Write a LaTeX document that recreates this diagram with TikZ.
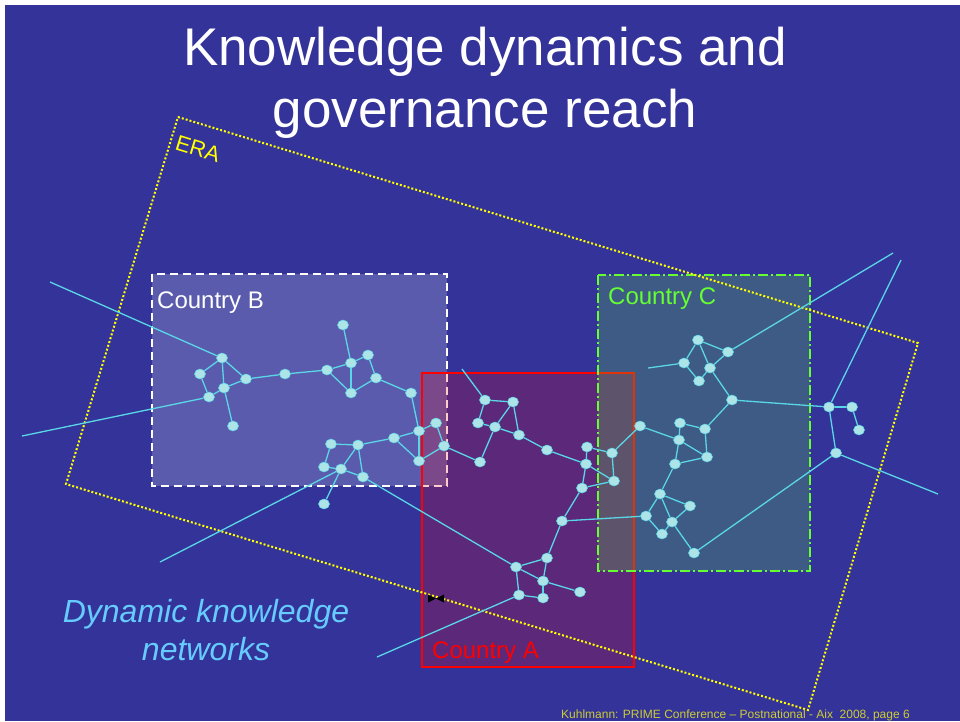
\documentclass[tikz,border=0pt]{standalone}
\usepackage{fontspec}
\setmainfont{Liberation Sans}
\usetikzlibrary{shapes.geometric}
\definecolor{bg}{RGB}{51,51,153}
\definecolor{edgecol}{RGB}{90,215,230}
\definecolor{nodefill}{RGB}{172,228,232}
\definecolor{cgreen}{RGB}{102,255,51}
\definecolor{dyncol}{RGB}{102,204,255}
\definecolor{footcol}{RGB}{204,204,51}
\definecolor{erayellow}{RGB}{255,255,0}
\tikzset{
  dot/.style={ellipse, minimum width=11pt, minimum height=10pt, inner sep=0pt, fill=nodefill, draw=edgecol, line width=0.5pt},
  link/.style={draw=edgecol, line width=1.3pt},
  countrylabel/.style={anchor=base west, inner sep=0pt, font=\fontsize{24}{28}\selectfont},
}
\begin{document}
\begin{tikzpicture}[x=1pt,y=-1pt]
\useasboundingbox (0,0) rectangle (960,721);
\fill[white] (0,0) rectangle (960,721);
\fill[bg] (5,5) rectangle (960,721);

% country boxes
\fill[white, fill opacity=0.2] (152,274) rectangle (447,486);
\draw[white, line width=2pt, dash pattern=on 8pt off 5pt] (152,274) rectangle (447,486);
\fill[red, fill opacity=0.2] (422,373) rectangle (634,667);
\draw[red, line width=2pt] (422,373) rectangle (634,667);
\fill[cgreen, fill opacity=0.2] (598,275) rectangle (810,571);
\draw[cgreen, line width=2pt, dash pattern=on 10pt off 3pt on 2pt off 3pt] (598,275) rectangle (810,571);

% ERA
\draw[erayellow, line width=2pt, dash pattern=on 2pt off 2pt] (178,117) -- (918,343) -- (808,710) -- (66,484) -- cycle;

% texts
\node[white, anchor=base, inner sep=0pt, font=\fontsize{53}{62}\selectfont] (t1) at (485,65) {Knowledge dynamics and};
\node[white, anchor=base, inner sep=0pt, font=\fontsize{53}{62}\selectfont] (t2) at (485,127) {governance reach};
\node[erayellow, rotate=-17, inner sep=0pt, font=\fontsize{22}{26}\selectfont] (era) at (198,149) {ERA};
\node[countrylabel, white] (lb) at (157,308) {Country B};
\node[countrylabel, cgreen] (lc) at (608,304) {Country C};
\node[countrylabel, red] (la) at (432,658) {Country A};
\node[dyncol, anchor=base, inner sep=0pt, font=\fontsize{32}{38}\selectfont\itshape] (d1) at (206,622) {Dynamic knowledge};
\node[dyncol, anchor=base, inner sep=0pt, font=\fontsize{32}{38}\selectfont\itshape] (d2) at (206,660) {networks};
\node[footcol, anchor=base east, inner sep=0pt, font=\fontsize{12}{14}\selectfont] (foot) at (910,718) {Kuhlmann: PRIME Conference -- Postnational - Aix\ \ 2008, page 6};

% bowtie marker
\fill[black] (428,594.5) -- (428,602.5) -- (436,598.5) -- cycle;
\fill[black] (444,594.5) -- (444,602.5) -- (436,598.5) -- cycle;

% free ends
\coordinate (f1) at (50,282);
\coordinate (f2) at (22,436);
\coordinate (f3) at (160,562);
\coordinate (f4) at (462,369);
\coordinate (f5) at (377,657);
\coordinate (f6) at (648,368);
\coordinate (f7) at (893,253);
\coordinate (f8) at (901,260);
\coordinate (f9) at (938,494);

% nodes B
\foreach \n/\x/\y in {b1/222/358, b2/200/374, b3/224/388, b4/209/397, b5/246/379, b6/233/426, b7/285/374, b8/327/370, b9/343/325, b10/351/363, b11/368/355, b12/376/378, b13/351/393, b14/411/393, b15/419/431, b16/436/423, b17/444/446, b18/419/461, b19/394/438, b20/358/445, b21/331/444, b22/324/467, b23/341/469, b24/363/477, b25/324/504,
  a1/480/462, a2/485/400, a3/513/402, a4/478/423, a5/495/427, a6/519/435, a7/547/450, a8/587/447, a9/586/464, a10/612/453, a11/614/481, a12/582/488, a13/562/521, a14/547/558, a15/516/567, a16/543/581, a17/580/592, a18/519/595, a19/543/598,
  c1/698/340, c2/728/352, c3/684/363, c4/710/368, c5/699/381, c6/732/400, c7/829/407, c8/852/407, c9/859/430, c10/836/453, c11/640/426, c12/680/423, c13/705/429, c14/679/440, c15/707/457, c16/675/464, c19/660/494, c20/690/506, c21/646/516, c22/672/522, c23/662/534, c24/694/553}
  {\node[dot] (\n) at (\x,\y) {};}

% edges
\foreach \u/\v in {f1/b1, f2/b4, b1/b2, b1/b3, b1/b5, b2/b4, b4/b3, b3/b5, b3/b6, b5/b7, b7/b8, b8/b10, b9/b10, b10/b11, b11/b12, b8/b13, b10/b13, b13/b12, b12/b14, b14/b15, b15/b16, b16/b17, b17/b18, b15/b18, b15/b19, b18/b19, b19/b20, b20/b21, b21/b22, b22/b23, b20/b23, b20/b24, b23/b24, b23/b25, b23/f3, b24/a15, b17/a1,
  f4/a2, a2/a3, a2/a4, a3/a5, a3/a6, a4/a5, a5/a6, a5/a1, a6/a7, a7/a9, a8/a9, a8/a10, a9/a11, a10/a11, a9/a12, a12/a11, a10/c11, a12/a13, a13/c21, a13/a14, a14/a15, a14/a16, a15/a16, a15/a18, a18/a19, a16/a19, a16/a17, a18/f5,
  f6/c3, c1/c2, c1/c3, c1/c4, c3/c5, c5/c4, c4/c2, c2/f7, c4/c6, c6/c7, c7/c8, c8/c9, c7/c10, c7/f8, c10/f9, c10/c24, c6/c13, c11/c14, c12/c14, c12/c13, c14/c15, c13/c15, c14/c16, c16/c15, c16/c19, c19/c20, c19/c22, c19/c21, c21/c23, c23/c22, c22/c20, c22/c24}
  {\draw[link] (\u) -- (\v);}
\end{tikzpicture}
\end{document}
